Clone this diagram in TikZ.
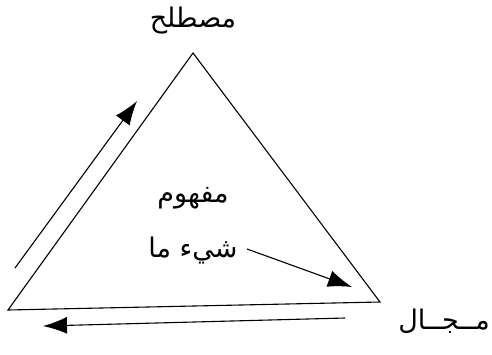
\documentclass[tikz,border=0pt]{standalone}
\usepackage{fontspec}
\usetikzlibrary{arrows.meta}
\TeXXeTstate=1
\newfontfamily\arabicfont[Script=Arabic]{DejaVu Sans}
\begin{document}
\begin{tikzpicture}[x=1pt,y=-1pt]
            \tikzset{
                word/.style={font=\arabicfont\fontsize{27}{30}\selectfont, inner sep=0pt},
                arc/.style={-{Latex[length=24pt,width=17pt]}, line width=1.1pt}
            }
            \useasboundingbox (0,0) rectangle (492,354);

            \coordinate (top) at (193,53);
            \coordinate (left) at (8,310);
            \coordinate (right) at (380,302);
            \draw[line width=1.1pt] (top) -- (right) -- (left) -- cycle;

            \node[word] (term) at (193,21) {\beginR مصطلح\endR};
            \node[word] (concept) at (193,198) {\beginR مفهوم\endR};
            \node[word] (thing) at (193,251) {\beginR شيء ما\endR};
            \node[word] (field) at (444,321) {\beginR مــجــال\endR};

            \coordinate (a1) at (15,268);
            \coordinate (a2) at (137,101);
            \coordinate (b1) at (345,318);
            \coordinate (b2) at (43,326);
            \coordinate (c1) at (247,249);
            \coordinate (c2) at (352,287);
            \foreach \x/\y in {%
                a1/a2, b1/b2, c1/c2%
            }{
                \draw[arc] (\x) -- (\y);
            }

\end{tikzpicture}
\end{document}
